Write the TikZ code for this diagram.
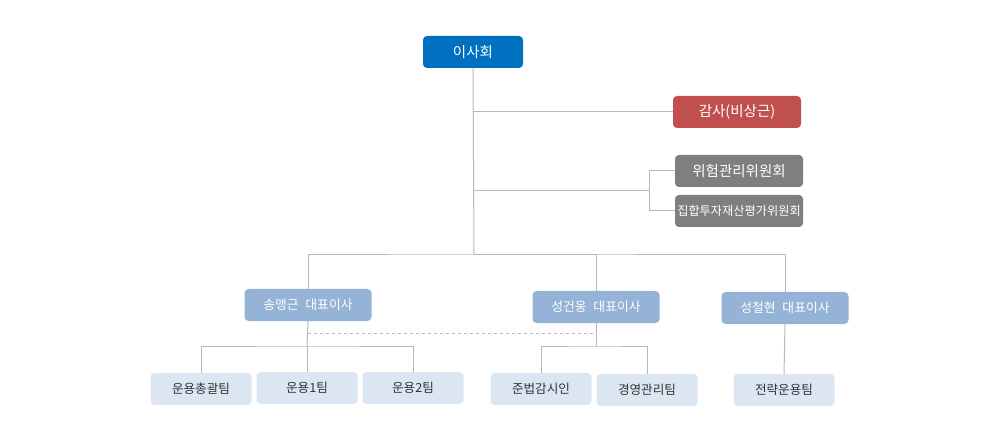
\documentclass[tikz,border=0pt]{standalone}
\usepackage{fontspec}
\setmainfont{Noto Sans CJK KR}
\definecolor{boardblue}{HTML}{0070C0}
\definecolor{auditred}{HTML}{C0504D}
\definecolor{cmtgray}{HTML}{7F7F7F}
\definecolor{ceoblue}{HTML}{95B3D7}
\definecolor{teamblue}{HTML}{DCE6F2}
\definecolor{teamtext}{HTML}{333333}
\definecolor{linegray}{HTML}{B8B8B8}
\tikzset{
  box/.style={rounded corners=4pt, minimum height=32pt, inner sep=0pt, text=white},
  topbox/.style={box, minimum width=128pt, font=\fontsize{14.5}{16}\selectfont},
  ceobox/.style={box, fill=ceoblue, minimum width=127pt, font=\fontsize{12.8}{15}\selectfont},
  teambox/.style={box, fill=teamblue, minimum width=101pt, text=teamtext, font=\fontsize{12.6}{15}\selectfont},
  link/.style={draw=linegray, line width=1pt}
}
\begin{document}
\begin{tikzpicture}[x=1pt, y=-1pt, line join=round]
				\useasboundingbox (0,0) rectangle (1000,443);
				% top level
				\node[topbox, fill=boardblue, minimum width=100pt] (board) at (473,52) {이사회};
				\node[topbox, fill=auditred] (audit) at (737,112) {감사(비상근)};
				\node[topbox, fill=cmtgray] (risk) at (739,171) {위험관리위원회};
				\node[topbox, fill=cmtgray, font=\fontsize{12.2}{14}\selectfont] (eval) at (739,211) {집합투자재산평가위원회};
				% ceos
				\node[ceobox] (ceoA) at (308,305) {송맹근\hspace{0.3em} 대표이사};
				\node[ceobox] (ceoB) at (596,307) {성건웅\hspace{0.3em} 대표이사};
				\node[ceobox] (ceoC) at (785,308) {성철현\hspace{0.3em} 대표이사};
				% teams
				\foreach \name/\x/\y/\txt in {tA/201/389/운용총괄팀, tB/307/388/운용1팀, tC/413/388/운용2팀,
					tD/541/389/준법감시인, tE/647/390/경영관리팀, tF/784/390/전략운용팀}{
					\node[teambox] (\name) at (\x,\y) {\txt};}
				% connectors
				\coordinate (hub) at (474,255);
				\coordinate (cmt) at (649,191);
				\coordinate (brA) at (307,346);
				\coordinate (brB) at (596,346);
				\draw[link] (board.south) -- (hub);
				\draw[link] (board.south |- audit.west) -- (audit.west);
				\draw[link] (board.south |- cmt) -- (cmt);
				\draw[link] (risk.west) -| (cmt) |- (eval.west);
				\draw[link] (ceoA.north) |- (hub) -| (ceoC.north);
				\draw[link] (hub) -| (ceoB.north);
				\draw[link, dashed, line width=0.6pt] ([yshift=-12pt]ceoA.south) -- ([yshift=-12pt]ceoA.south -| ceoB.south);
				\draw[link] (ceoA.south) -- (brA);
				\draw[link] (tA.north) |- (brA) -| (tC.north);
				\draw[link] (brA) -- (tB.north);
				\draw[link] (ceoB.south) -- (brB);
				\draw[link] (tD.north) |- (brB) -| (tE.north);
				\draw[link] (ceoC.south) -- (tF.north);
\end{tikzpicture}
\end{document}
